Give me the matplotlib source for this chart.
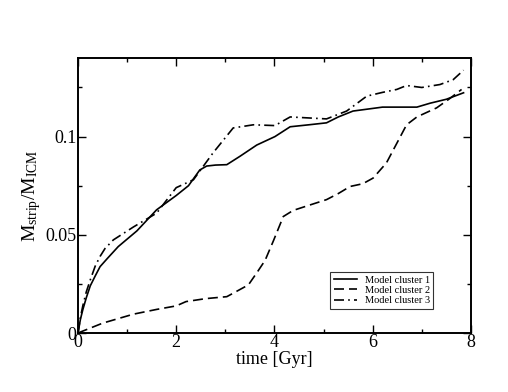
import matplotlib
matplotlib.use("Agg")
import matplotlib.pyplot as plt
from matplotlib.ticker import MultipleLocator, FuncFormatter

plt.rcParams["font.family"] = ["Liberation Serif", "DejaVu Serif"]
plt.rcParams["mathtext.fontset"] = "custom"
plt.rcParams["mathtext.rm"] = "Liberation Serif"
plt.rcParams["mathtext.it"] = "Liberation Serif:italic"

# cluster 1 (solid)
t1 = [0.0, 0.05, 0.1, 0.17, 0.25, 0.35, 0.45, 0.6, 0.82, 1.2, 1.6, 2.0, 2.25, 2.48, 2.62, 2.8,
      3.03, 3.3, 3.64, 4.01, 4.32, 4.7, 5.06, 5.3, 5.6, 6.08, 6.2, 6.9, 7.17, 7.5, 7.85]
v1 = [0.0, 0.007, 0.012, 0.018, 0.024, 0.029, 0.0338, 0.038, 0.044, 0.052, 0.0627, 0.070, 0.075,
      0.083, 0.085, 0.0855, 0.0857, 0.090, 0.0957, 0.100, 0.105, 0.106, 0.107, 0.110, 0.113,
      0.1146, 0.115, 0.115, 0.117, 0.119, 0.1223]

# cluster 2 (dashed)
t2 = [0.0, 0.5, 1.13, 1.6, 2.0, 2.2, 2.6, 3.03, 3.17, 3.47, 3.65, 3.81, 3.98, 4.18, 4.38,
      4.7, 5.06, 5.3, 5.54, 5.8, 6.01, 6.28, 6.5, 6.69, 6.9, 7.3, 7.55, 7.81]
v2 = [0.0, 0.005, 0.0096, 0.012, 0.0138, 0.016, 0.0175, 0.0185, 0.0204, 0.0245, 0.031, 0.037,
      0.047, 0.0593, 0.0624, 0.065, 0.0679, 0.071, 0.0746, 0.076, 0.0789, 0.0866, 0.097, 0.106,
      0.110, 0.1146, 0.119, 0.124]

# cluster 3 (dash-dot)
t3 = [0.0, 0.05, 0.1, 0.17, 0.25, 0.35, 0.45, 0.55, 0.72, 1.13, 1.6, 2.0, 2.35, 2.75, 3.16,
      3.57, 4.01, 4.32, 5.06, 5.47, 5.88, 6.2, 6.49, 6.69, 7.0, 7.37, 7.64, 7.85]
v3 = [0.0, 0.008, 0.014, 0.021, 0.027, 0.034, 0.039, 0.043, 0.0474, 0.054, 0.061, 0.074, 0.078,
      0.0917, 0.1044, 0.106, 0.1056, 0.110, 0.109, 0.113, 0.1206, 0.1225, 0.124, 0.126, 0.125,
      0.1265, 0.129, 0.1338]

labels = ["Model cluster 1", "Model cluster 2", "Model cluster 3"]

fig = plt.figure(figsize=(5.08, 3.92), dpi=100)
ax = fig.add_axes([0.1535, 0.1505, 0.7735, 0.7015])

ax.plot(t1, v1, color="black", lw=1.2, ls="-", label=labels[0])
ax.plot(t2, v2, color="black", lw=1.2, ls=(0, (6, 3)), label=labels[1])
ax.plot(t3, v3, color="black", lw=1.2, ls=(0, (6, 2.5, 1, 2.5)), label=labels[2])

ax.set_xlim(0, 8)
ax.set_ylim(0, 0.14)
ax.xaxis.set_major_locator(MultipleLocator(2))
ax.xaxis.set_minor_locator(MultipleLocator(1))
ax.yaxis.set_major_locator(MultipleLocator(0.05))
ax.yaxis.set_minor_locator(MultipleLocator(0.025))
ax.yaxis.set_major_formatter(FuncFormatter(lambda v, p: "%g" % round(v, 3)))
ax.tick_params(which="both", direction="in", top=True, right=True, labelsize=13, width=1)
ax.tick_params(which="major", length=6, pad=1)
ax.tick_params(which="minor", length=3)
for s in ax.spines.values():
    s.set_linewidth(1.4)

ax.set_xlabel("time [Gyr]", fontsize=13, labelpad=0)
ax.set_ylabel(r"$\mathrm{M_{strip}/M_{ICM}}$", fontsize=14, labelpad=2)

leg = ax.legend(loc="lower right", bbox_to_anchor=(0.917, 0.07), fontsize=7.5, frameon=True,
                fancybox=False, edgecolor="black", handlelength=2.2, borderpad=0.3,
                labelspacing=0.1, handletextpad=0.8)
leg.get_frame().set_linewidth(0.8)

fig.savefig("out.png", dpi=100)
